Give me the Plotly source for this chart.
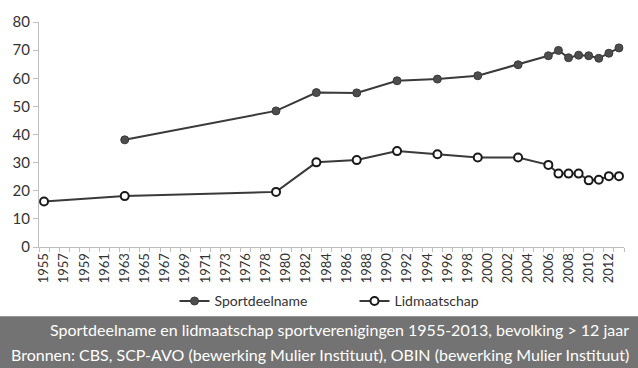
import plotly.graph_objects as go

# Category axis: all years shown in the source chart (1974 absent)
years = [str(y) for y in list(range(1955, 1974)) + list(range(1975, 2014))]

sport_years = ["1963", "1979", "1983", "1987", "1991", "1995", "1999", "2003",
               "2006", "2007", "2008", "2009", "2010", "2011", "2012", "2013"]
sport_vals = [38.1, 48.4, 54.9, 54.8, 59.1, 59.7, 60.9, 64.8,
              68.0, 69.9, 67.3, 68.2, 68.0, 67.1, 68.9, 70.8]

lid_years = ["1955", "1963", "1979", "1983", "1987", "1991", "1995", "1999", "2003",
             "2006", "2007", "2008", "2009", "2010", "2011", "2012", "2013"]
lid_vals = [16.2, 18.1, 19.6, 30.1, 30.9, 34.1, 33.0, 31.8, 31.8,
            29.2, 26.1, 26.1, 26.1, 23.7, 23.9, 25.2, 25.2]

tick_text = [y if i % 2 == 0 else "" for i, y in enumerate(years)]

title_line = "Sportdeelname en lidmaatschap sportverenigingen 1955-2013, bevolking > 12 jaar"
source_line = "Bronnen: CBS, SCP-AVO (bewerking Mulier Instituut), OBIN (bewerking Mulier Instituut)"

line_col = "#3a3a3a"

fig = go.Figure()
fig.add_trace(go.Scatter(
    x=sport_years, y=sport_vals, name="Sportdeelname", mode="lines+markers",
    line=dict(color=line_col, width=2),
    marker=dict(symbol="circle", size=8, color="#4d4d4d", line=dict(color="#3a3a3a", width=1)),
))
fig.add_trace(go.Scatter(
    x=lid_years, y=lid_vals, name="Lidmaatschap", mode="lines+markers",
    line=dict(color=line_col, width=2),
    marker=dict(symbol="circle", size=8, color="white", line=dict(color="#1a1a1a", width=2)),
))

W, H = 638, 368
ml, mr, mt, mb = 39, 14, 18, 121.3
pw = W - ml - mr
ph = H - mt - mb

def px_to_paper_y(py):
    return (H - mb - py) / ph

def px_to_paper_x(px):
    return (px - ml) / pw

fig.add_shape(type="rect", xref="paper", yref="paper",
              x0=px_to_paper_x(-2), x1=px_to_paper_x(W + 2),
              y0=px_to_paper_y(317), y1=px_to_paper_y(H + 2),
              fillcolor="#737373", line=dict(width=0), layer="below")

fig.add_annotation(text=title_line, xref="paper", yref="paper",
                   x=px_to_paper_x(631), y=px_to_paper_y(331),
                   xanchor="right", yanchor="middle", showarrow=False,
                   font=dict(family="Lato", size=16, color="white"))
fig.add_annotation(text=source_line, xref="paper", yref="paper",
                   x=px_to_paper_x(631), y=px_to_paper_y(356),
                   xanchor="right", yanchor="middle", showarrow=False,
                   font=dict(family="Lato", size=16, color="white"))

fig.update_layout(
    width=W, height=H,
    margin=dict(l=ml, r=mr, t=mt, b=mb),
    paper_bgcolor="white", plot_bgcolor="white",
    font=dict(family="Lato", color="#333333"),
    showlegend=True,
    legend=dict(orientation="h", x=0.5 + 23 / pw, xanchor="center",
                y=px_to_paper_y(302), yanchor="middle",
                font=dict(size=14, color="#333333"),
                bgcolor="rgba(0,0,0,0)", itemwidth=30, tracegroupgap=0,
                entrywidth=135, entrywidthmode="pixels"),
)
fig.update_xaxes(
    type="category", categoryorder="array", categoryarray=years,
    range=[-0.5, len(years) - 0.5],
    tickmode="array", tickvals=years, ticktext=tick_text,
    tickangle=-90, tickfont=dict(size=13, color="#333333"),
    ticks="outside", ticklen=4, tickcolor="#bfbfbf", tickson="boundaries",
    showline=True, linecolor="#bfbfbf", linewidth=1,
    showgrid=False, zeroline=False,
)
fig.update_yaxes(
    range=[0, 80], tickvals=[0, 10, 20, 30, 40, 50, 60, 70, 80],
    tickfont=dict(size=15, color="#333333"),
    ticks="outside", ticklen=5, tickcolor="#bfbfbf",
    showline=True, linecolor="#bfbfbf", linewidth=1,
    showgrid=False, zeroline=False,
)

fig.write_html("out.html", config={"displayModeBar": False},
               post_script="document.body.style.margin='0';document.body.style.overflow='hidden';")
